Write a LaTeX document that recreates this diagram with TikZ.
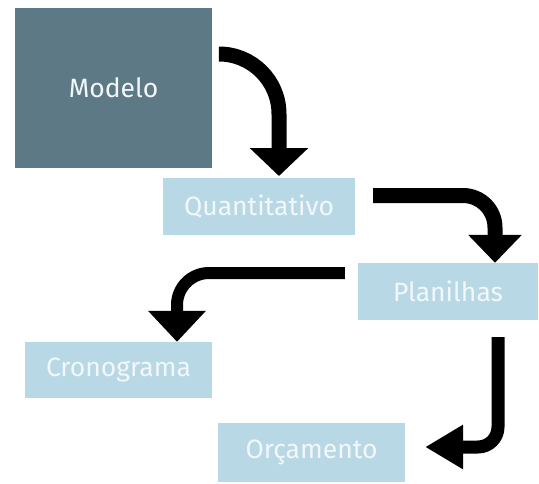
\documentclass[tikz,border=0pt]{standalone}
\usepackage{fontspec}
\setmainfont{Fira Sans}
\usetikzlibrary{arrows.meta}
\definecolor{darkslate}{HTML}{5E7986}
\definecolor{paleblue}{HTML}{B9D8E6}
\definecolor{labeltext}{HTML}{F2F7FA}
\tikzset{
  box/.style={fill=paleblue, draw=none, inner sep=0pt, text=labeltext,
    font=\fontsize{26.5}{30}\selectfont},
  mainbox/.style={box, fill=darkslate},
  flow/.style={line width=15pt, black, rounded corners=#1},
  flow/.default=40pt
}
\begin{document}
\begin{tikzpicture}[x=1pt,y=-1pt]
  \useasboundingbox (0,0) rectangle (539,483);
  % blocks
  \node[mainbox, minimum width=197pt, minimum height=160pt] (modelo) at (113.5,88) {Modelo};
  \node[box, minimum width=192pt, minimum height=57pt] (quant) at (259,206.5) {Quantitativo};
  \node[box, minimum width=180pt, minimum height=57pt] (plan) at (448,291.5) {Planilhas};
  \node[box, minimum width=187pt, minimum height=56pt] (crono) at (118.5,370) {Cronograma};
  \node[box, minimum width=187pt, minimum height=59pt] (orc) at (311.5,452.5) {Orçamento};
  % connector end points
  \coordinate (a1s) at (modelo.east |- 0,54);
  \coordinate (a1e) at (279,176);
  \coordinate (a2s) at (quant.east |- 0,195.5);
  \coordinate (a2e) at (plan.north -| 495,0);
  \coordinate (a3s) at (plan.west |- 0,273);
  \coordinate (a3e) at (crono.north -| 177,0);
  \coordinate (a4s) at (plan.south -| 498,0);
  \coordinate (a4e) at (orc.east |- 0,447);
  % curved block arrows
  \draw[flow=60pt, -{Triangle[length=28pt,width=57pt]}] ([xshift=10pt]a1s) -| (a1e);
  \draw[flow=32pt, -{Triangle[length=28pt,width=52pt]}] ([xshift=18pt]a2s) -| (a2e);
  \draw[flow=32pt, line width=12pt, -{Triangle[length=31pt,width=56pt]}] ([xshift=-13pt]a3s) -| (a3e);
  \draw[flow=20pt, line width=13pt, -{Triangle[length=38pt,width=42pt]}] ([yshift=-17pt]a4s) |- ([xshift=20pt]a4e);
\end{tikzpicture}
\end{document}
